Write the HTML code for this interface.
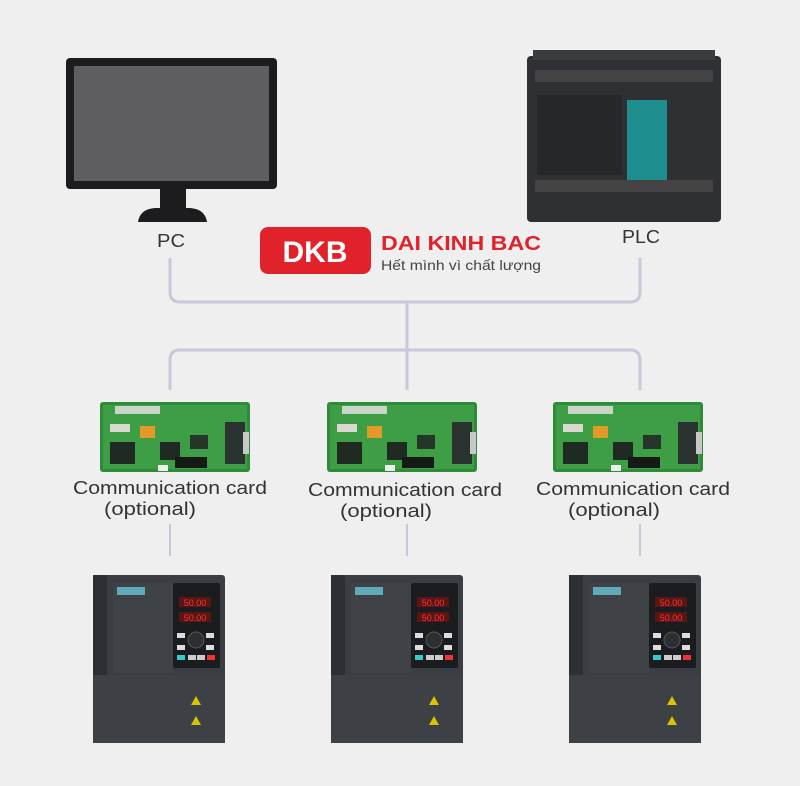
<!DOCTYPE html><html><head><style>body{margin:0;background:#efefef}svg{display:block}</style></head><body>
<svg width="800" height="786" xmlns="http://www.w3.org/2000/svg" font-family="Liberation Sans, sans-serif">
<rect width="800" height="786" fill="#efefef"/>
<defs>
<g id="card">
<rect x="0" y="0" width="150" height="70" rx="3" fill="#2f8a3a"/>
<rect x="3" y="3" width="144" height="64" fill="#3e9e45"/>
<rect x="15" y="4" width="45" height="8" fill="#c9d5c9"/>
<rect x="10" y="22" width="20" height="8" fill="#d8d8d0"/>
<rect x="40" y="24" width="15" height="12" fill="#e39a28"/>
<rect x="10" y="40" width="25" height="22" fill="#1e2a22"/>
<rect x="60" y="40" width="20" height="18" fill="#1e2a22"/>
<rect x="90" y="33" width="18" height="14" fill="#26352a"/>
<rect x="75" y="55" width="32" height="11" fill="#151a16"/>
<rect x="125" y="20" width="20" height="42" fill="#2a3330"/>
<rect x="143" y="30" width="6" height="22" fill="#c8c8c8"/>
<rect x="58" y="63" width="10" height="6" fill="#eee"/>
</g>
<g id="drive">
<rect x="0" y="0" width="132" height="168" rx="3" fill="#3a3d42"/>
<rect x="0" y="0" width="14" height="168" fill="#2c2f33"/>
<rect x="20" y="8" width="60" height="90" fill="#3f4247"/>
<rect x="24" y="12" width="28" height="8" fill="#5fa9b8"/>
<rect x="80" y="8" width="47" height="85" rx="2" fill="#1b1c1f"/>
<rect x="86" y="22" width="32" height="10" fill="#5a1515"/>
<rect x="86" y="37" width="32" height="10" fill="#5a1515"/>
<text x="102" y="31" font-size="9" fill="#f33" text-anchor="middle">50.00</text>
<text x="102" y="46" font-size="9" fill="#f33" text-anchor="middle">50.00</text>
<circle cx="103" cy="65" r="8" fill="#2d2f33" stroke="#555"/>
<rect x="84" y="58" width="8" height="5" fill="#ddd"/><rect x="113" y="58" width="8" height="5" fill="#ddd"/>
<rect x="84" y="70" width="8" height="5" fill="#ddd"/><rect x="113" y="70" width="8" height="5" fill="#ddd"/>
<rect x="84" y="80" width="8" height="5" fill="#3cc"/><rect x="95" y="80" width="8" height="5" fill="#ccc"/><rect x="104" y="80" width="8" height="5" fill="#ccc"/><rect x="114" y="80" width="8" height="5" fill="#e33"/>
<rect x="0" y="100" width="132" height="68" fill="#3d4045"/>
<path d="M98 130 l5 -9 l5 9z M98 150 l5 -9 l5 9z" fill="#d8c400"/>
</g>
</defs>
<rect x="66" y="58" width="211" height="131" rx="4" fill="#1c1c1e"/>
<rect x="74" y="66" width="195" height="115" fill="#5e5e62"/>
<rect x="160" y="189" width="26" height="20" fill="#1c1c1e"/>
<path d="M138 222 Q140 209 155 208 L190 208 Q205 209 207 222Z" fill="#1c1c1e"/>
<rect x="527" y="56" width="194" height="166" rx="4" fill="#2e3034"/>
<rect x="533" y="50" width="182" height="10" fill="#3a3c40"/>
<rect x="535" y="70" width="178" height="12" fill="#444"/>
<rect x="535" y="180" width="178" height="12" fill="#444"/>
<rect x="627" y="100" width="40" height="80" fill="#1e8e8e"/>
<rect x="537" y="95" width="85" height="80" fill="#25272b"/>
<text x="157" y="247" font-size="18" fill="#333" textLength="28" lengthAdjust="spacingAndGlyphs">PC</text>
<text x="622" y="243" font-size="18" fill="#333" textLength="38" lengthAdjust="spacingAndGlyphs">PLC</text>
<rect x="260" y="227" width="111" height="47" rx="8" fill="#e2222b"/>
<text x="315" y="262" font-size="30" font-weight="bold" fill="#fff" text-anchor="middle">DKB</text>
<text x="381" y="250" font-size="20" font-weight="bold" fill="#e2222b" textLength="160" lengthAdjust="spacingAndGlyphs">DAI KINH BAC</text>
<text x="381" y="270" font-size="14" fill="#444" textLength="160" lengthAdjust="spacingAndGlyphs">Hết mình vì chất lượng</text>
<g fill="none" stroke="#c9c7d9" stroke-width="3">
<path d="M170 258 V292 Q170 302 180 302 H630 Q640 302 640 292 V258"/>
<path d="M407 302 V390"/>
<path d="M170 390 V360 Q170 350 180 350 H630 Q640 350 640 360 V390"/>
<path d="M170 524 V556 M407 524 V556 M640 524 V556" stroke-width="2"/>
</g>
<use href="#card" x="100" y="402"/>
<use href="#card" x="327" y="402"/>
<use href="#card" x="553" y="402"/>
<g font-size="18" fill="#333">
<text x="73" y="494" textLength="194" lengthAdjust="spacingAndGlyphs">Communication card</text><text x="104" y="515" textLength="92" lengthAdjust="spacingAndGlyphs">(optional)</text>
<text x="308" y="496" textLength="194" lengthAdjust="spacingAndGlyphs">Communication card</text><text x="340" y="517" textLength="92" lengthAdjust="spacingAndGlyphs">(optional)</text>
<text x="536" y="495" textLength="194" lengthAdjust="spacingAndGlyphs">Communication card</text><text x="568" y="516" textLength="92" lengthAdjust="spacingAndGlyphs">(optional)</text>
</g>
<use href="#drive" x="93" y="575"/>
<use href="#drive" x="331" y="575"/>
<use href="#drive" x="569" y="575"/>
</svg></body></html>
